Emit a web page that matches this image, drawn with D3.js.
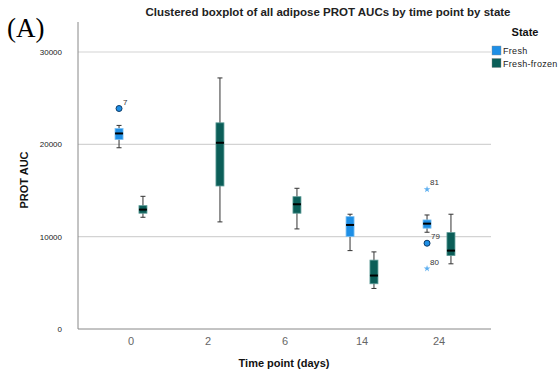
<!DOCTYPE html>
<html>
<head>
<meta charset="utf-8">
<script src="https://cdn.jsdelivr.net/npm/d3@7"></script>
<style>
  body { margin: 0; background: #fff; }
  svg { display: block; font-family: Arial, "Liberation Sans", sans-serif; }
</style>
</head>
<body>
<div id="chart"></div>
<script>
// time points and groups
const timePoints = ["0", "2", "6", "14", "24"];
const states = ["Fresh", "Fresh-frozen"];
const stateColors = ["#1e8fe6", "#0b5e58"];

// five-number summaries per box: [time, state, min, q1, median, q3, max]
const boxStats = [
  ["0", "Fresh", 19630, 20530, 21180, 21720, 22050],
  ["0", "Fresh-frozen", 12100, 12540, 12930, 13360, 14370],
  ["2", "Fresh-frozen", 11600, 15490, 20170, 22330, 27190],
  ["6", "Fresh-frozen", 10840, 12540, 13510, 14330, 15240],
  ["14", "Fresh", 8490, 10010, 11270, 12170, 12430],
  ["14", "Fresh-frozen", 4390, 4900, 5790, 7460, 8350],
  ["24", "Fresh", 10480, 10920, 11410, 11810, 12350],
  ["24", "Fresh-frozen", 7060, 7950, 8490, 10440, 12430]
];

// outliers: [time, state, value, case id, kind]
const outliers = [
  ["0", "Fresh", 23880, "7", "circle"],
  ["24", "Fresh", 15130, "81", "star"],
  ["24", "Fresh", 9290, "79", "circle"],
  ["24", "Fresh", 6550, "80", "star"]
];

const yTicks = [0, 10000, 20000, 30000];

const width = 559, height = 377;
const plot = { left: 78, right: 491, top: 22, bottom: 329 };

const svg = d3.select("#chart").append("svg")
  .attr("width", width)
  .attr("height", height);

const x = d3.scaleBand()
  .domain(timePoints)
  .range([92.5, 477.5]);

const xs = d3.scaleBand()
  .domain(states)
  .range([0, x.bandwidth()])
  .paddingInner(0.18)
  .paddingOuter(0.7);

const y = d3.scaleLinear()
  .domain([0, 33250])
  .range([plot.bottom, plot.top]);

const color = d3.scaleOrdinal().domain(states).range(stateColors);

const cx = (t, s) => x(t) + xs(s) + xs.bandwidth() / 2;
const boxW = 8;

// gridlines
svg.append("g")
  .selectAll("line")
  .data(yTicks.filter(d => d > 0))
  .join("line")
  .attr("x1", plot.left).attr("x2", plot.right)
  .attr("y1", d => y(d)).attr("y2", d => y(d))
  .attr("stroke", "#d3d3d3")
  .attr("stroke-width", 1.2);

// y axis
const yAxis = svg.append("g")
  .attr("transform", `translate(${plot.left},0)`)
  .call(d3.axisLeft(y).tickValues(yTicks).tickSize(0).tickPadding(16).tickFormat(d3.format("d")));
yAxis.select(".domain").attr("stroke", "#888").attr("d", `M0,${plot.top}V${plot.bottom}`);
yAxis.selectAll("text").attr("font-size", 8).attr("fill", "#222");

// x axis
const xAxis = svg.append("g")
  .attr("transform", `translate(0,${plot.bottom})`)
  .call(d3.axisBottom(x).tickSize(0).tickPadding(8));
xAxis.select(".domain").attr("stroke", "#888").attr("d", `M${plot.left},0H${plot.right}`);
xAxis.selectAll("text").attr("font-size", 11).attr("fill", "#666");

// boxes
const boxes = svg.append("g")
  .selectAll("g")
  .data(boxStats)
  .join("g")
  .attr("transform", d => `translate(${cx(d[0], d[1])},0)`);

boxes.append("line")
  .attr("y1", d => y(d[2])).attr("y2", d => y(d[6]))
  .attr("stroke", "#333").attr("stroke-width", 1);

boxes.selectAll(".cap")
  .data(d => [d[2], d[6]])
  .join("line")
  .attr("class", "cap")
  .attr("x1", -2.5).attr("x2", 2.5)
  .attr("y1", v => y(v)).attr("y2", v => y(v))
  .attr("stroke", "#333");

boxes.append("rect")
  .attr("x", -boxW / 2)
  .attr("width", boxW)
  .attr("y", d => y(d[5]))
  .attr("height", d => y(d[3]) - y(d[5]))
  .attr("fill", d => color(d[1]))
  .attr("stroke", d => d[1] === "Fresh" ? "#7cc0f2" : "#5e9c98")
  .attr("stroke-width", 0.8);

boxes.append("line")
  .attr("x1", -boxW / 2).attr("x2", boxW / 2)
  .attr("y1", d => y(d[4])).attr("y2", d => y(d[4]))
  .attr("stroke", "#000").attr("stroke-width", 2);

// outliers
const out = svg.append("g")
  .selectAll("g")
  .data(outliers)
  .join("g")
  .attr("transform", d => `translate(${cx(d[0], d[1])},${y(d[2])})`);

out.filter(d => d[4] === "circle").append("circle")
  .attr("r", 3)
  .attr("fill", d => color(d[1]))
  .attr("stroke", "#0d3a66")
  .attr("stroke-width", 1);

out.filter(d => d[4] === "star").append("path")
  .attr("d", d3.symbol(d3.symbolStar, 14))
  .attr("fill", "#5fb0f0");

out.append("text")
  .attr("x", d => d[4] === "circle" ? 4 : 3)
  .attr("y", -4)
  .attr("font-size", 8)
  .attr("fill", "#333")
  .text(d => d[3]);

// titles
svg.append("text")
  .attr("x", 328).attr("y", 16)
  .attr("text-anchor", "middle")
  .attr("font-size", 11.5).attr("font-weight", "bold").attr("fill", "#222")
  .text("Clustered boxplot of all adipose PROT AUCs by time point by state");

svg.append("text")
  .attr("x", 284).attr("y", 367)
  .attr("text-anchor", "middle")
  .attr("font-size", 11).attr("font-weight", "bold").attr("fill", "#111")
  .text("Time point (days)");

svg.append("text")
  .attr("transform", "translate(28,180) rotate(-90)")
  .attr("text-anchor", "middle")
  .attr("font-size", 11).attr("font-weight", "bold").attr("fill", "#111")
  .text("PROT AUC");

svg.append("text")
  .attr("x", 7).attr("y", 37)
  .attr("font-family", "'Liberation Serif', 'DejaVu Serif', serif")
  .attr("font-size", 27).attr("fill", "#000")
  .text("(A)");

// legend
const legend = svg.append("g").attr("transform", "translate(492,0)");
legend.append("text")
  .attr("x", 33).attr("y", 36)
  .attr("text-anchor", "middle")
  .attr("font-size", 11).attr("font-weight", "bold").attr("fill", "#111")
  .text("State");
const items = legend.selectAll(".item")
  .data(states)
  .join("g")
  .attr("class", "item")
  .attr("transform", (d, i) => `translate(0,${46 + i * 12.5})`);
items.append("rect")
  .attr("width", 9).attr("height", 9)
  .attr("fill", d => color(d))
  .attr("stroke", "#888").attr("stroke-width", 0.4);
items.append("text")
  .attr("x", 11).attr("y", 8)
  .attr("font-size", 9).attr("letter-spacing", 0.3).attr("fill", "#222")
  .text(d => d);
</script>
</body>
</html>
